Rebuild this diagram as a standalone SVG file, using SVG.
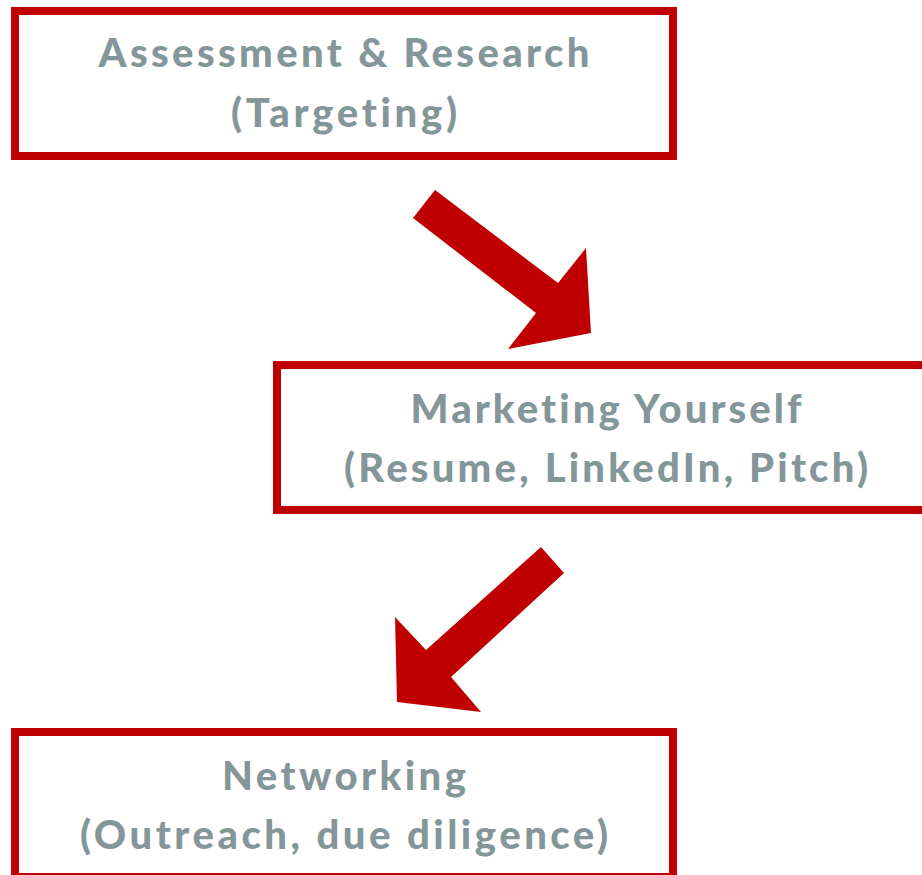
<svg xmlns="http://www.w3.org/2000/svg" width="922" height="875" viewBox="0 0 922 875">
<style>
.box{fill:#fff;stroke:#C00000;stroke-width:8}
.t{font-family:Lato,"Noto Sans","Liberation Sans",sans-serif;font-weight:900;font-size:40px;fill:#849698;text-anchor:middle;font-variant-ligatures:none}
.arr{fill:#C00000}
</style>
<rect width="922" height="875" fill="#fff"/>
<g id="node1">
<rect class="box" x="15" y="11" width="658" height="145"/>
<text class="t" x="344" y="67" textLength="491" lengthAdjust="spacing">Assessment &amp; Research</text>
<text class="t" x="344" y="127" textLength="226" lengthAdjust="spacing">(Targeting)</text>
</g>
<g id="node2">
<rect class="box" x="277" y="365" width="658" height="145"/>
<text class="t" x="606" y="423" textLength="391" lengthAdjust="spacing">Marketing Yourself</text>
<text class="t" x="606" y="482" textLength="524" lengthAdjust="spacing">(Resume, LinkedIn, Pitch)</text>
</g>
<g id="node3">
<rect class="box" x="15" y="732" width="658" height="145"/>
<text class="t" x="344" y="790" textLength="244" lengthAdjust="spacing">Networking</text>
<text class="t" x="344" y="849" textLength="528" lengthAdjust="spacing">(Outreach, due diligence)</text>
</g>
<g id="connectors">
<polygon class="arr" points="413,218 435,190 558,283 586,248 591,333 508,349 536,313"/>
<polygon class="arr" points="541,547 564,573 451,677 481,712 397,702 395,617 426,650"/>
</g>
</svg>
